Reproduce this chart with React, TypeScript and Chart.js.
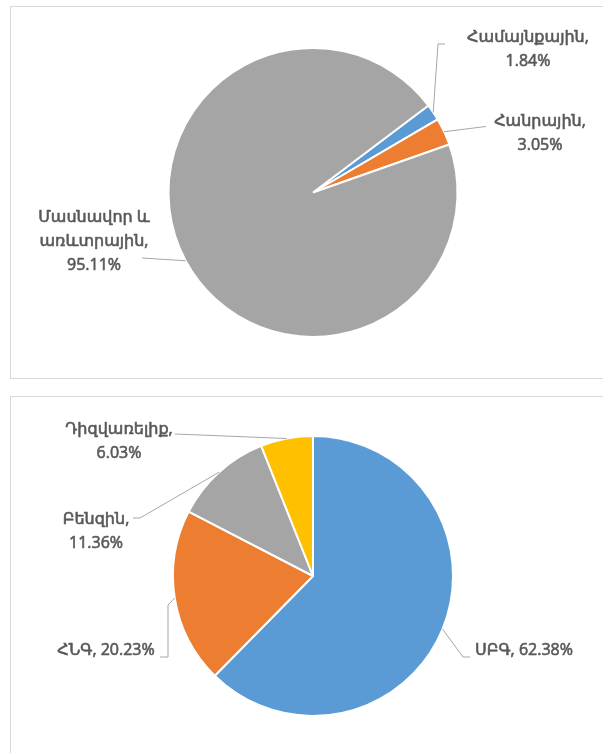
import React, { useEffect, useRef } from "react";
import { Chart, registerables } from "chart.js";

Chart.register(...registerables);

// ---- data ----
const topCategories = ["Համայնքային", "Հանրային", "Մասնավոր և առևտրային"];
const topValues = [1.84, 3.05, 95.11];
const topColors = ["#5B9BD5", "#ED7D31", "#A5A5A5"];

const bottomCategories = ["ՍԲԳ", "ՀՆԳ", "Բենզին", "Դիզվառելիք"];
const bottomValues = [62.38, 20.23, 11.36, 6.03];
const bottomColors = ["#5B9BD5", "#ED7D31", "#A5A5A5", "#FFC000"];

// ---- label layout (offsets from the pie centre, px) ----
type LabelCfg = { wrap: string[] | null; dx: number; dy: number; path: number[][] };

const topLabelLayout: LabelCfg[] = [
  { wrap: null, dx: 215, dy: -155.5, path: [[125, -148.5], [132, -148.5]] },
  { wrap: null, dx: 227, dy: -71.5, path: [[173, -66]] },
  { wrap: ["Մասնավոր և", "առևտրային,"], dx: -219, dy: 24.5, path: [[-171, 65.5]] },
];

const bottomLabelLayout: LabelCfg[] = [
  { wrap: [], dx: 211, dy: 74, path: [[150, 81], [157, 81]] },
  { wrap: [], dx: -207, dy: 74, path: [[-145, 29], [-145, 81], [-153, 81]] },
  { wrap: null, dx: -217, dy: -57, path: [[-173, -58], [-180, -58]] },
  { wrap: null, dx: -194, dy: -147, path: [[-138, -142]] },
];

const FONT = '500 16px "Open Sans", "DejaVu Sans", sans-serif';
const LINE_H = 24;

function linesFor(name: string, value: number, cfg: LabelCfg): string[] {
  const pct = value.toFixed(2) + "%";
  if (cfg.wrap && cfg.wrap.length === 0) return [name + ", " + pct];
  if (cfg.wrap) return [...cfg.wrap, pct];
  return [name + ",", pct];
}

const leaderPlugin = {
  id: "leaders",
  afterDatasetsDraw(chart: any, _args: any, opts: any) {
    const ctx = chart.ctx as CanvasRenderingContext2D;
    const meta = chart.getDatasetMeta(0);
    const layout: LabelCfg[] = opts.layout;
    const names: string[] = chart.data.labels;
    const values: number[] = chart.data.datasets[0].data;
    meta.data.forEach((arc: any, i: number) => {
      const p = arc.getProps(["x", "y", "startAngle", "endAngle", "outerRadius"], true);
      const mid = (p.startAngle + p.endAngle) / 2;
      const ex = p.x + Math.cos(mid) * p.outerRadius;
      const ey = p.y + Math.sin(mid) * p.outerRadius;
      const cfg = layout[i];
      ctx.save();
      ctx.strokeStyle = "#A6A6A6";
      ctx.lineWidth = 1;
      ctx.beginPath();
      ctx.moveTo(ex, ey);
      cfg.path.forEach(([dx, dy]) => ctx.lineTo(p.x + dx, p.y + dy));
      ctx.stroke();
      ctx.fillStyle = "#595959";
      ctx.strokeStyle = "#595959";
      ctx.lineWidth = 0.6;
      ctx.lineJoin = "round";
      ctx.font = FONT;
      ctx.textAlign = "center";
      ctx.textBaseline = "middle";
      const lines = linesFor(names[i], values[i], cfg);
      lines.forEach((t, k) => {
        const tx = p.x + cfg.dx;
        const ty = p.y + cfg.dy + k * LINE_H;
        ctx.fillText(t, tx, ty);
        ctx.strokeText(t, tx, ty);
      });
      ctx.restore();
    });
  },
};

type PieProps = {
  labels: string[];
  values: number[];
  colors: string[];
  rotation: number;
  radius: number;
  padding: { left: number; right: number; top: number; bottom: number };
  layout: LabelCfg[];
  width: number;
  height: number;
};

function Pie(props: PieProps) {
  const ref = useRef<HTMLCanvasElement>(null);
  useEffect(() => {
    const chart = new Chart(ref.current as HTMLCanvasElement, {
      type: "pie",
      data: {
        labels: props.labels,
        datasets: [
          {
            data: props.values,
            backgroundColor: props.colors,
            borderColor: "#FFFFFF",
            borderWidth: 2,
          },
        ],
      },
      options: {
        responsive: false,
        animation: false,
        rotation: props.rotation,
        radius: props.radius,
        layout: { padding: props.padding },
        plugins: {
          legend: { display: false },
          tooltip: { enabled: false },
          leaders: { layout: props.layout },
        } as any,
      },
      plugins: [leaderPlugin],
    });
    return () => chart.destroy();
  }, []);
  return <canvas ref={ref} width={props.width} height={props.height} style={{ display: "block" }} />;
}

export default function App() {
  return (
    <div
      style={{
        position: "fixed",
        left: 0,
        top: 0,
        width: 603,
        height: 753,
        background: "#FFFFFF",
        overflow: "hidden",
      }}
    >
      <div style={{ position: "absolute", left: 10, top: 6, width: 600, height: 371, border: "1px solid #D9D9D9" }} />
      <div style={{ position: "absolute", left: 10, top: 396, width: 600, height: 400, border: "1px solid #D9D9D9" }} />
      <div style={{ position: "absolute", left: 0, top: 0 }}>
        <Pie
          labels={topCategories}
          values={topValues}
          colors={topColors}
          rotation={53}
          radius={144.5}
          padding={{ left: 163, right: 140, top: 42.5, bottom: 37.5 }}
          layout={topLabelLayout}
          width={603}
          height={380}
        />
      </div>
      <div style={{ position: "absolute", left: 0, top: 380 }}>
        <Pie
          labels={bottomCategories}
          values={bottomValues}
          colors={bottomColors}
          rotation={0}
          radius={140}
          padding={{ left: 163, right: 140, top: 46, bottom: 27 }}
          layout={bottomLabelLayout}
          width={603}
          height={373}
        />
      </div>
    </div>
  );
}
